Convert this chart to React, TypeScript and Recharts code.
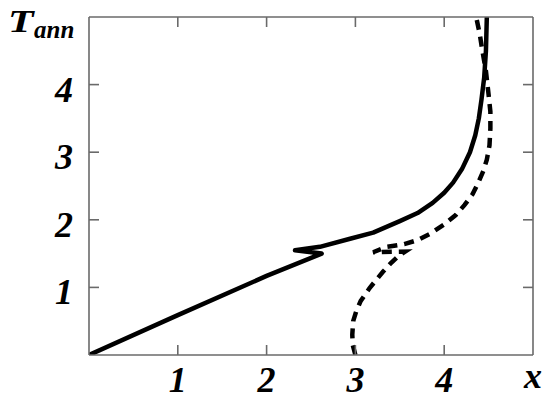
import React from 'react';
import { LineChart, Line, XAxis, YAxis, Label } from 'recharts';

const solidX = [0, 1.0, 2.0, 2.62, 2.32, 2.6, 2.94, 3.2, 3.5, 3.7, 3.87, 4.0, 4.1, 4.2, 4.29, 4.35, 4.39, 4.42, 4.45, 4.47, 4.48];
const solidY = [0, 0.59, 1.17, 1.5, 1.55, 1.6, 1.72, 1.81, 1.98, 2.1, 2.25, 2.4, 2.55, 2.75, 3.0, 3.25, 3.5, 3.78, 4.1, 4.5, 5.0];

const dashedX = [3.0, 2.97, 2.965, 2.975, 3.01, 3.06, 3.16, 3.24, 3.31, 3.4, 3.48, 3.56, 3.2, 3.35, 3.55, 3.7, 3.85, 4.0, 4.13, 4.23, 4.32, 4.38, 4.44, 4.48, 4.51, 4.52, 4.52, 4.5, 4.47, 4.43, 4.4, 4.36];
const dashedY = [0, 0.15, 0.3, 0.5, 0.65, 0.8, 0.99, 1.12, 1.23, 1.36, 1.46, 1.53, 1.52, 1.6, 1.64, 1.7, 1.8, 1.93, 2.07, 2.22, 2.38, 2.54, 2.72, 2.89, 3.1, 3.35, 3.6, 3.85, 4.2, 4.5, 4.75, 5.0];

const xTicks = [1, 2, 3, 4];
const yTicks = [1, 2, 3, 4];
const xAxisName = 'x';
const yAxisName = 'T';
const yAxisSub = 'ann';

const solidData = solidX.map((x, i) => ({ x, y: solidY[i] }));
const dashedData = dashedX.map((x, i) => ({ x, y: dashedY[i] }));

const AXIS = '#6a6a6a';
const FONT = '"Liberation Serif", "Times New Roman", serif';
const TICK_LEN = 10;

const labelStyle: React.CSSProperties = {
  fontFamily: FONT,
  fontWeight: 'bold',
  fontStyle: 'italic',
  fontSize: 36,
  fill: '#000',
};

const BottomTick = (props: any) => {
  const { x, y, payload } = props;
  const isName = payload.value === 5;
  return (
    <g>
      {!isName && <line x1={x} y1={y} x2={x} y2={y - TICK_LEN} stroke={AXIS} strokeWidth={1.6} />}
      <text x={x} y={y} dy={isName ? 33 : 37} textAnchor="middle" style={labelStyle}>
        {isName ? xAxisName : payload.value}
      </text>
    </g>
  );
};

const TopTick = (props: any) => {
  const { x, y } = props;
  return <line x1={x} y1={y} x2={x} y2={y + TICK_LEN} stroke={AXIS} strokeWidth={1.6} />;
};

const LeftTick = (props: any) => {
  const { x, y, payload } = props;
  return (
    <g>
      <line x1={x} y1={y} x2={x + TICK_LEN} y2={y} stroke={AXIS} strokeWidth={1.6} />
      <text x={x - 16} y={y} dy={17} textAnchor="end" style={labelStyle}>
        {payload.value}
      </text>
    </g>
  );
};

const RightTick = (props: any) => {
  const { x, y } = props;
  return <line x1={x} y1={y} x2={x - TICK_LEN} y2={y} stroke={AXIS} strokeWidth={1.6} />;
};

const Title = (props: any) => {
  const vb = props.viewBox || { x: 29, y: 17, width: 60 };
  const left = vb.x + vb.width;
  const tx = left - 81;
  const ty = vb.y + 15;
  return (
    <g>
      <text
        transform={`translate(${tx},${ty}) scale(1.35,1)`}
        style={{ ...labelStyle, fontSize: 31 }}
      >
        {yAxisName}
      </text>
      <text x={tx + 26} y={ty + 6} style={{ ...labelStyle, fontSize: 25 }}>
        {yAxisSub}
      </text>
    </g>
  );
};

const common = {
  type: 'number' as const,
  domain: [0, 5],
  interval: 0 as const,
  allowDataOverflow: true,
  axisLine: { stroke: AXIS, strokeWidth: 1.6 },
  tickLine: false,
  tickSize: 0,
  tickMargin: 0,
};

export default function App() {
  return (
    <div style={{ position: 'absolute', left: 0, top: 0, background: '#fff' }}>
      <LineChart width={550} height={403} margin={{ top: 16, right: 16, bottom: 8, left: 29 }}>
        <XAxis xAxisId="b" dataKey="x" orientation="bottom" height={40} ticks={[...xTicks, 5]} tick={<BottomTick />} {...common} />
        <XAxis xAxisId="t" dataKey="x" orientation="top" height={1} ticks={xTicks} tick={<TopTick />} {...common} />
        <YAxis yAxisId="l" orientation="left" width={60} ticks={yTicks} tick={<LeftTick />} {...common}>
          <Label content={<Title />} />
        </YAxis>
        <YAxis yAxisId="r" orientation="right" width={1} ticks={yTicks} tick={<RightTick />} {...common} />
        <Line
          xAxisId="b"
          yAxisId="l"
          data={dashedData}
          dataKey="y"
          type="linear"
          stroke="#000"
          strokeWidth={4.5}
          strokeDasharray="10 7"
          dot={false}
          activeDot={false}
          isAnimationActive={false}
        />
        <Line
          xAxisId="b"
          yAxisId="l"
          data={solidData}
          dataKey="y"
          type="linear"
          stroke="#000"
          strokeWidth={4.5}
          strokeLinejoin="round"
          dot={false}
          activeDot={false}
          isAnimationActive={false}
        />
      </LineChart>
    </div>
  );
}
